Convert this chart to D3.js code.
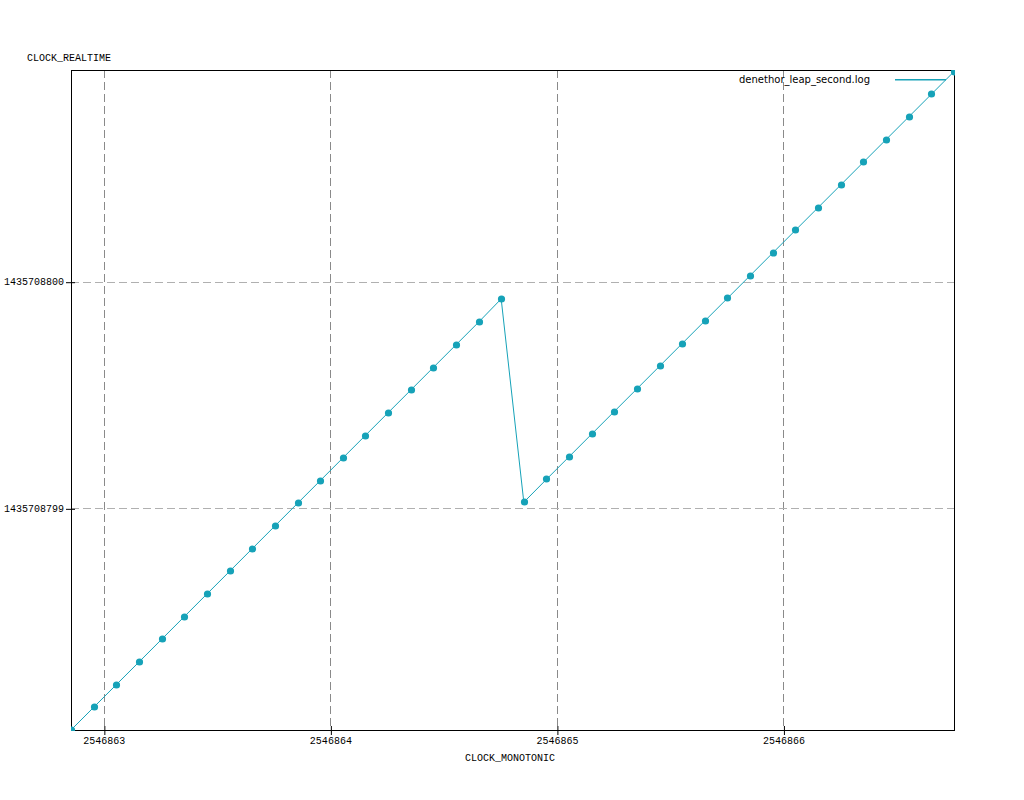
<!DOCTYPE html>
<html>
<head>
<meta charset="utf-8">
<script src="https://cdn.jsdelivr.net/npm/d3@7"></script>
<style>
  html, body { margin: 0; padding: 0; background: #fff; }
  svg { display: block; }
  .mono { font-family: "Liberation Mono", "DejaVu Sans Mono", monospace; font-size: 10px; fill: #000; }
  .legend { font-family: "DejaVu Sans", "Liberation Sans", sans-serif; font-size: 10px; fill: #000; }
</style>
</head>
<body>
<svg id="chart" width="1024" height="800"></svg>
<script>
// CLOCK_MONOTONIC readings (s)
const monotonic = [
  2546862.855, 2546862.955, 2546863.055, 2546863.155, 2546863.255,
  2546863.355, 2546863.455, 2546863.555, 2546863.655, 2546863.755,
  2546863.855, 2546863.954, 2546864.054, 2546864.154, 2546864.254,
  2546864.354, 2546864.454, 2546864.554, 2546864.654, 2546864.754,
  2546864.854, 2546864.954, 2546865.054, 2546865.154, 2546865.253,
  2546865.353, 2546865.453, 2546865.553, 2546865.653, 2546865.753,
  2546865.853, 2546865.953, 2546866.053, 2546866.153, 2546866.253,
  2546866.353, 2546866.453, 2546866.553, 2546866.653, 2546866.753
];
// CLOCK_REALTIME readings (s)
const realtime = [
  1435708798.022, 1435708798.122, 1435708798.222, 1435708798.322, 1435708798.422,
  1435708798.522, 1435708798.622, 1435708798.722, 1435708798.822, 1435708798.922,
  1435708799.022, 1435708799.121, 1435708799.221, 1435708799.321, 1435708799.421,
  1435708799.521, 1435708799.621, 1435708799.721, 1435708799.821, 1435708799.924,
  1435708799.027, 1435708799.128, 1435708799.228, 1435708799.328, 1435708799.427,
  1435708799.527, 1435708799.627, 1435708799.727, 1435708799.827, 1435708799.927,
  1435708800.027, 1435708800.127, 1435708800.227, 1435708800.327, 1435708800.427,
  1435708800.527, 1435708800.627, 1435708800.727, 1435708800.827, 1435708800.927
];
const xTicks = [2546863, 2546864, 2546865, 2546866];
const yTicks = [1435708799, 1435708800];
const seriesName = "denethor_leap_second.log";
const xLabel = "CLOCK_MONOTONIC";
const yLabel = "CLOCK_REALTIME";

const data = monotonic.map((m, i) => ({ x: m, y: realtime[i] }));

const color = "#16a2b8";
const pLeft = 71, pRight = 954, pTop = 70, pBottom = 730;

const svg = d3.select("#chart");

const x = d3.scaleLinear().domain(d3.extent(monotonic)).range([pLeft, pRight]);
const y = d3.scaleLinear().domain([1435708798.022, 1435708800.934]).range([pBottom, pTop]);

// grid
svg.append("g").selectAll("line").data(xTicks).join("line")
  .attr("x1", d => Math.round(x(d)) + 0.5).attr("x2", d => Math.round(x(d)) + 0.5)
  .attr("y1", pTop).attr("y2", pBottom)
  .attr("stroke", "#8a8a8a").attr("stroke-width", 1).attr("stroke-dasharray", "8,4");
svg.append("g").selectAll("line").data(yTicks).join("line")
  .attr("y1", d => Math.round(y(d)) + 0.5).attr("y2", d => Math.round(y(d)) + 0.5)
  .attr("x1", pLeft).attr("x2", pRight)
  .attr("stroke", "#b0b0b0").attr("stroke-width", 1).attr("stroke-dasharray", "8,4");

// axes
const xAxis = d3.axisBottom(x).tickValues(xTicks).tickFormat(d3.format("d")).tickSize(5).tickPadding(3);
const gx = svg.append("g").attr("transform", `translate(0,${pBottom})`).call(xAxis);
gx.select(".domain").remove();
gx.selectAll(".tick line").attr("y1", -4).attr("stroke", "#000").attr("transform", "translate(0.5,0)");
gx.selectAll(".tick text").attr("class", "mono").attr("font-family", null).attr("font-size", null).attr("dy", "0.6em");

const yAxis = d3.axisLeft(y).tickValues(yTicks).tickFormat(d3.format("d")).tickSize(5).tickPadding(2);
const gy = svg.append("g").attr("transform", `translate(${pLeft},0)`).call(yAxis);
gy.select(".domain").remove();
gy.selectAll(".tick line").attr("x1", 4).attr("stroke", "#000").attr("transform", "translate(0,0.5)");
gy.selectAll(".tick text").attr("class", "mono").attr("font-family", null).attr("font-size", null);

// frame
svg.append("rect").attr("x", pLeft + 0.5).attr("y", pTop + 0.5)
  .attr("width", pRight - pLeft).attr("height", pBottom - pTop)
  .attr("fill", "none").attr("stroke", "#000").attr("stroke-width", 1);

// data line and points, clipped to plot
svg.append("clipPath").attr("id", "clip").append("rect")
  .attr("x", pLeft).attr("y", pTop).attr("width", pRight - pLeft + 1).attr("height", pBottom - pTop + 1);
const plot = svg.append("g").attr("clip-path", "url(#clip)");
plot.append("path").datum(data)
  .attr("d", d3.line().x(d => x(d.x)).y(d => y(d.y)))
  .attr("fill", "none").attr("stroke", color).attr("stroke-width", 1);
plot.selectAll("circle.pt").data(data).join("circle").attr("class", "pt")
  .attr("cx", d => Math.round(x(d.x)) + 0.5).attr("cy", d => Math.round(y(d.y)))
  .attr("r", 3.6)
  .attr("fill", color);

// legend
svg.append("text").attr("class", "legend").attr("x", 870).attr("y", 83)
  .attr("text-anchor", "end").text(seriesName);
svg.append("rect").attr("x", 895).attr("y", 79).attr("width", 51).attr("height", 1.5)
  .attr("fill", color);

// axis labels
svg.append("text").attr("class", "mono").attr("x", 27).attr("y", 61).text(yLabel);
svg.append("text").attr("class", "mono").attr("x", 510).attr("y", 761)
  .attr("text-anchor", "middle").text(xLabel);
</script>
</body>
</html>
